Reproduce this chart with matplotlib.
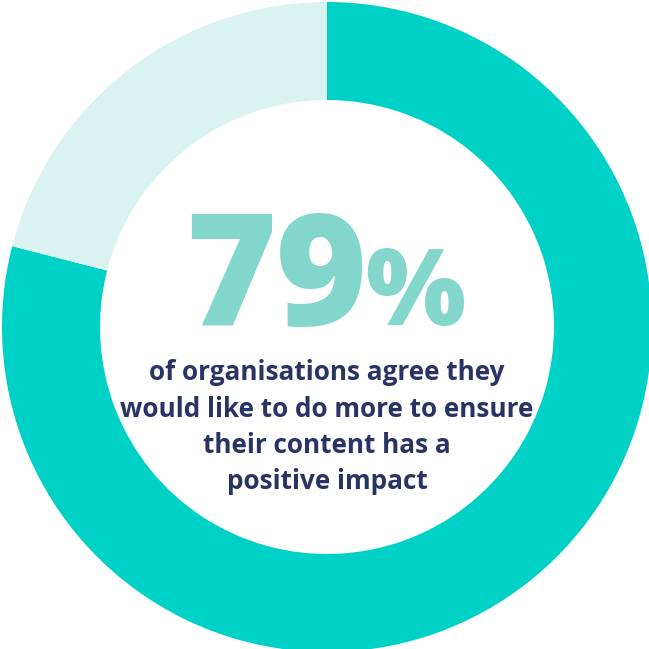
import matplotlib
matplotlib.use("Agg")
import matplotlib.pyplot as plt

# --- data ---
shares = [79, 21]
ring_colors = ["#00D1C6", "#DAF3F0"]
headline = "79"
headline_unit = "%"
caption_lines = [
    "of organisations agree they",
    "would like to do more to ensure",
    "their content has a",
    "positive impact",
]

# --- figure, axes in pixel units centred on the ring ---
fig = plt.figure(figsize=(6.49, 6.49), dpi=100)
ax = fig.add_axes([0, 0, 1, 1])

ax.pie(
    shares,
    colors=ring_colors,
    startangle=90,
    counterclock=False,
    radius=325,
    wedgeprops=dict(width=98, linewidth=0),
)

# pie() resets the limits, so set them afterwards
ax.set_xlim(-327, 322)
ax.set_ylim(-322, 327)
ax.set_aspect("equal")
ax.axis("off")

# --- big number ---
ax.text(-142, 2, headline, ha="left", va="baseline", fontsize=112,
        fontfamily="Open Sans", fontweight=800, color="#82D6CC")
ax.text(38, 2, headline_unit, ha="left", va="baseline", fontsize=76,
        fontfamily="Open Sans", fontweight=800, color="#82D6CC")

# --- caption ---
for i, line in enumerate(caption_lines):
    ax.text(0, -46 - 36.3 * i, line, ha="center", va="center", fontsize=18.8,
            fontfamily="Open Sans", fontweight="bold", color="#2A3464")

fig.savefig("out.png", dpi=100)
